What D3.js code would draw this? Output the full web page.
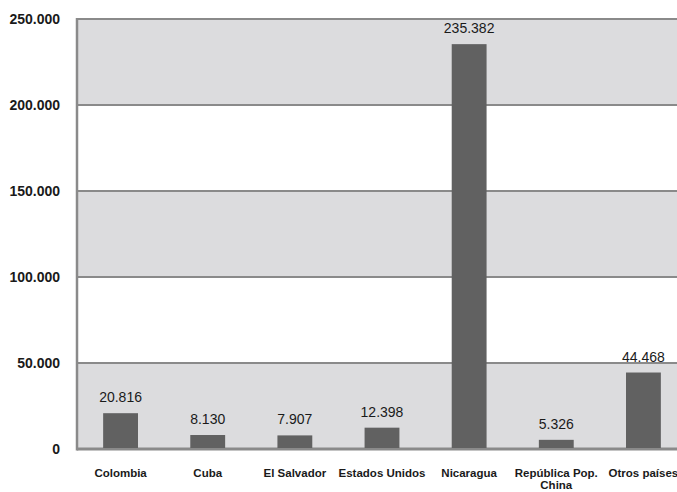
<!DOCTYPE html>
<html>
<head>
<meta charset="utf-8">
<script src="https://cdn.jsdelivr.net/npm/d3@7"></script>
<style>
  body { margin: 0; background: #fff; }
  svg { display: block; font-family: "Liberation Sans", Arial, sans-serif; }
  .ytick { font-size: 14px; font-weight: bold; fill: #1a1a1a; }
  .xlab { font-size: 11.5px; font-weight: bold; fill: #1a1a1a; }
  .val { font-size: 14px; fill: #1a1a1a; }
</style>
</head>
<body>
<svg width="677" height="492"></svg>
<script>
// **** data ****
var countries = ['Colombia', 'Cuba', 'El Salvador', 'Estados Unidos', 'Nicaragua', 'República Pop.|China', 'Otros países'];
var people = [20816, 8130, 7907, 12398, 235382, 5326, 44468];
var yTicks = [0, 50000, 100000, 150000, 200000, 250000];

var svg = d3.select('svg');

var xScale = d3.scaleBand()
    .domain(countries).range([77, 687]).paddingInner(0.6).paddingOuter(0.3);

var yScale = d3.scaleLinear()
    .domain([0, 250000]).range([449, 19]);

function fmt(n) {
    return d3.format(',')(n).replace(/,/g, '.');
}

// alternating bands
svg.append('g').selectAll('rect')
    .data(yTicks.slice(0, -1))
    .enter().append('rect')
    .attr('x', 77).attr('width', 600)
    .attr('y', function(d) { return yScale(d + 50000); })
    .attr('height', function(d) { return yScale(d) - yScale(d + 50000); })
    .style('fill', function(d, i) { return i % 2 === 0 ? '#dcdcde' : '#ffffff'; });

// grid lines
svg.append('g').selectAll('line')
    .data(yTicks)
    .enter().append('line')
    .attr('x1', 77).attr('x2', 677)
    .attr('y1', function(d) { return yScale(d); })
    .attr('y2', function(d) { return yScale(d); })
    .style('stroke', '#8a8a8a')
    .style('stroke-width', function(d) { return d === 0 ? 3 : 2; });

// left axis line
svg.append('line')
    .attr('x1', 77).attr('x2', 77)
    .attr('y1', yScale(250000) - 1).attr('y2', yScale(0) + 1.5)
    .style('stroke', '#8a8a8a').style('stroke-width', 2.5);

// y labels
svg.append('g').selectAll('text')
    .data(yTicks)
    .enter().append('text')
    .attr('class', 'ytick')
    .attr('x', 60)
    .attr('y', function(d) { return yScale(d) + 5; })
    .attr('text-anchor', 'end')
    .text(function(d) { return fmt(d); });

// bars
svg.append('g').selectAll('rect')
    .data(people)
    .enter().append('rect')
    .attr('x', function(d, i) { return xScale(countries[i]); })
    .attr('width', xScale.bandwidth())
    .attr('y', function(d) { return yScale(d); })
    .attr('height', function(d) { return yScale(0) - yScale(d) - 1; })
    .style('fill', '#616161');

// value labels
svg.append('g').selectAll('text')
    .data(people)
    .enter().append('text')
    .attr('class', 'val')
    .attr('x', function(d, i) { return xScale(countries[i]) + xScale.bandwidth() / 2; })
    .attr('y', function(d) { return yScale(d) - 11; })
    .attr('text-anchor', 'middle')
    .text(function(d) { return fmt(d); });

// category labels
var xl = svg.append('g').selectAll('text')
    .data(countries)
    .enter().append('text')
    .attr('class', 'xlab')
    .attr('x', function(d) { return xScale(d) + xScale.bandwidth() / 2; })
    .attr('y', 477)
    .attr('text-anchor', 'middle');

xl.each(function(d) {
    var parts = d.split('|');
    var t = d3.select(this);
    parts.forEach(function(p, k) {
        t.append('tspan')
            .attr('x', t.attr('x'))
            .attr('dy', k === 0 ? 0 : 12)
            .text(p);
    });
});
</script>
</body>
</html>
